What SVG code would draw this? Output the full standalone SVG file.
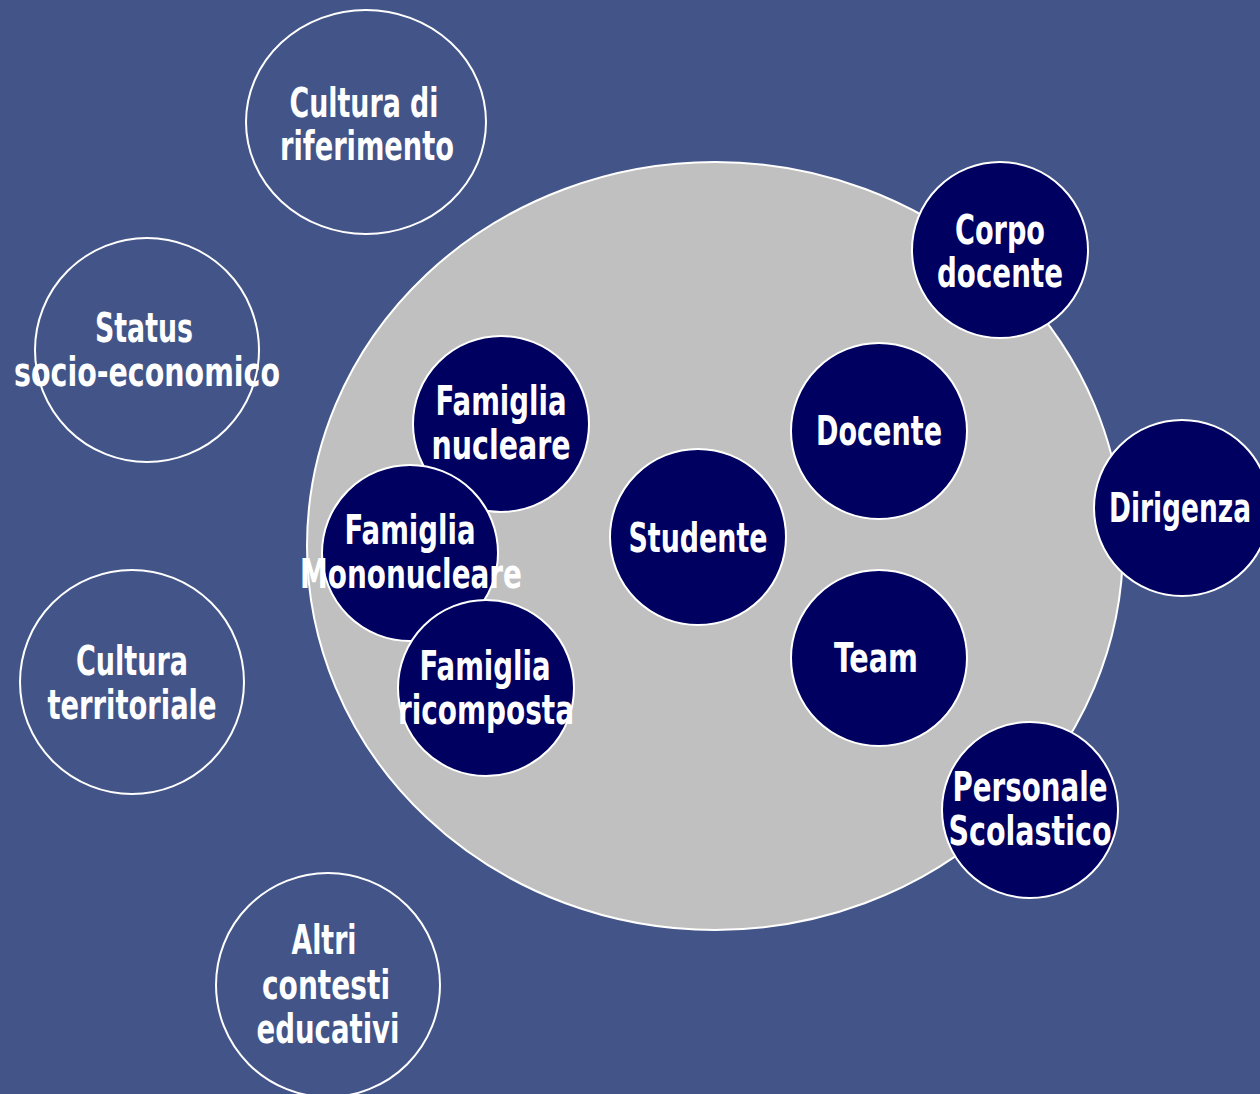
<svg xmlns="http://www.w3.org/2000/svg" width="1260" height="1094" viewBox="0 0 1260 1094">
<style>
.bg{fill:#435588}
.out{fill:#435588;stroke:#ffffff;stroke-width:2}
.in{fill:#000060;stroke:#ffffff;stroke-width:2}
.big{fill:#c0c0c0;stroke:#ffffff;stroke-width:2}
text{font-family:"Liberation Sans Narrow","DejaVu Sans Condensed","Liberation Sans",sans-serif;font-weight:bold;font-size:40px;fill:#ffffff;text-anchor:middle}
</style>
<rect class="bg" x="0" y="0" width="1260" height="1094"/>
<g id="connectors"></g>
<g id="contesto">
<ellipse class="big" cx="715" cy="546" rx="408" ry="384"/>
</g>
<g id="cultura-riferimento">
<ellipse class="out" cx="366" cy="122" rx="120" ry="112"/>
<text x="364" y="117" textLength="149" lengthAdjust="spacingAndGlyphs">Cultura di</text>
<text x="367" y="160" textLength="174" lengthAdjust="spacingAndGlyphs">riferimento</text>
</g>
<g id="status">
<circle class="out" cx="147" cy="350" r="112"/>
<text x="144" y="342" textLength="98" lengthAdjust="spacingAndGlyphs">Status</text>
<text x="147" y="386" textLength="266" lengthAdjust="spacingAndGlyphs">socio-economico</text>
</g>
<g id="cultura-territoriale">
<circle class="out" cx="132" cy="682" r="112"/>
<text x="132" y="675" textLength="112" lengthAdjust="spacingAndGlyphs">Cultura</text>
<text x="132" y="719" textLength="169" lengthAdjust="spacingAndGlyphs">territoriale</text>
</g>
<g id="altri-contesti">
<circle class="out" cx="328" cy="985" r="112"/>
<text x="324" y="954" textLength="65" lengthAdjust="spacingAndGlyphs">Altri</text>
<text x="326" y="999" textLength="128" lengthAdjust="spacingAndGlyphs">contesti</text>
<text x="328" y="1043" textLength="143" lengthAdjust="spacingAndGlyphs">educativi</text>
</g>
<g id="corpo-docente">
<circle class="in" cx="1000" cy="250" r="88"/>
<text x="1000" y="244" textLength="90" lengthAdjust="spacingAndGlyphs">Corpo</text>
<text x="1000" y="287" textLength="126" lengthAdjust="spacingAndGlyphs">docente</text>
</g>
<g id="docente">
<circle class="in" cx="879" cy="431" r="88"/>
<text x="879" y="445" textLength="126" lengthAdjust="spacingAndGlyphs">Docente</text>
</g>
<g id="dirigenza">
<circle class="in" cx="1182" cy="508" r="88"/>
<text x="1180" y="522" textLength="142" lengthAdjust="spacingAndGlyphs">Dirigenza</text>
</g>
<g id="studente">
<circle class="in" cx="698" cy="537" r="88"/>
<text x="698" y="552" textLength="139" lengthAdjust="spacingAndGlyphs">Studente</text>
</g>
<g id="team">
<circle class="in" cx="879" cy="658" r="88"/>
<text x="876" y="672" textLength="84" lengthAdjust="spacingAndGlyphs">Team</text>
</g>
<g id="personale-scolastico">
<circle class="in" cx="1030" cy="810" r="88"/>
<text x="1030" y="801" textLength="155" lengthAdjust="spacingAndGlyphs">Personale</text>
<text x="1030" y="845" textLength="163" lengthAdjust="spacingAndGlyphs">Scolastico</text>
</g>
<g id="famiglia-nucleare">
<circle class="in" cx="501" cy="424" r="88"/>
<text x="501" y="415" textLength="131" lengthAdjust="spacingAndGlyphs">Famiglia</text>
<text x="501" y="459" textLength="139" lengthAdjust="spacingAndGlyphs">nucleare</text>
</g>
<g id="famiglia-mononucleare">
<circle class="in" cx="410" cy="553" r="88"/>
<text x="410" y="544" textLength="131" lengthAdjust="spacingAndGlyphs">Famiglia</text>
<text x="411" y="588" textLength="222" lengthAdjust="spacingAndGlyphs">Mononucleare</text>
</g>
<g id="famiglia-ricomposta">
<circle class="in" cx="486" cy="688" r="88"/>
<text x="485" y="680" textLength="131" lengthAdjust="spacingAndGlyphs">Famiglia</text>
<text x="486" y="724" textLength="176" lengthAdjust="spacingAndGlyphs">ricomposta</text>
</g>
</svg>
